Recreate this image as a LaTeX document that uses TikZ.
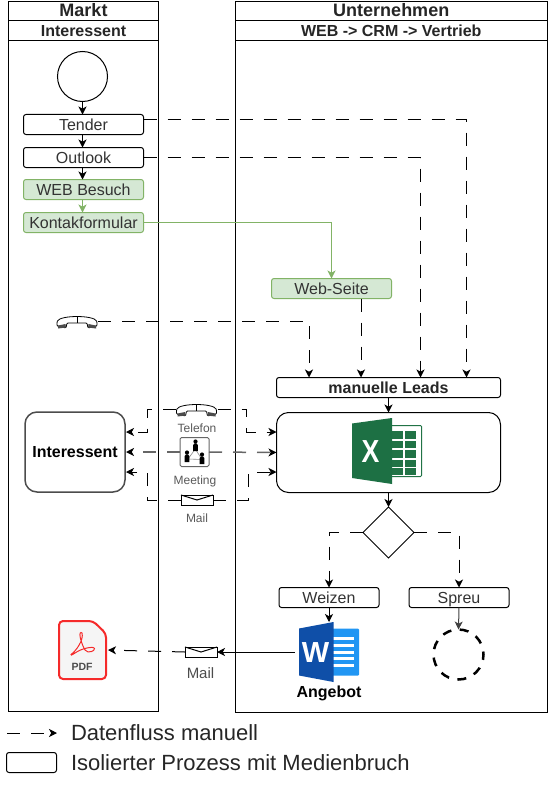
\documentclass[tikz,border=0pt]{standalone}
\usepackage{fontspec}
\setmainfont{Liberation Sans}
\usetikzlibrary{arrows.meta,shapes.geometric,calc}
\definecolor{txt}{HTML}{333333}
\definecolor{grn}{HTML}{82B366}
\definecolor{grnf}{HTML}{D5E8D4}
\definecolor{xld}{HTML}{1D7044}
\definecolor{xlc}{HTML}{217346}
\definecolor{wdd}{HTML}{0F4FA8}
\definecolor{wdl}{HTML}{2196F3}
\definecolor{pdfr}{HTML}{F52A2A}
\tikzset{
  every node/.style={inner sep=0pt,outer sep=0pt,font=\fontsize{16}{18}\selectfont,text=txt},
  every path/.style={line width=1pt},
  arr/.style={-{Stealth[length=8pt,width=8pt,inset=2.2pt]}},
  karr/.style={-{Stealth[length=8pt,width=8pt,inset=2.2pt,black]}},
  dsh/.style={dash pattern=on 13pt off 11pt},
  box/.style={draw,rounded corners=2.5pt,fill=white,minimum height=20pt,anchor=north west,text height=13.5pt,text depth=2.5pt},
  gbox/.style={box,draw=grn,fill=grnf,text=black!80},
  lane/.style={draw,anchor=north west},
  hd/.style={font=\bfseries\fontsize{18}{20}\selectfont,text=black!85,text height=14.5pt,text depth=3pt},
  sh/.style={font=\bfseries\fontsize{16}{18}\selectfont,text=black!85,text height=13.5pt,text depth=2.5pt},
  lab/.style={font=\fontsize{12}{14}\selectfont,text=black!65},
  icon/.style={minimum width=#1,minimum height=12pt,anchor=center},
  phonepic/.pic={
    \draw[fill=white,line width=.8pt,rounded corners=1pt] (-20,5) -- (-20,1) .. controls (-17,-6) and (17,-6) .. (20,1) -- (20,5) -- (11,7) -- (10,2) -- (-10,2) -- (-11,7) -- cycle;
    \draw[line width=.6pt] (0,-4.5) -- (0,2);
    \fill[black!70] (-19,4.5) -- (-11.5,3) -- (-11,6.5) -- (-19,7.5) -- cycle;
    \fill[black!70] (19,4.5) -- (11.5,3) -- (11,6.5) -- (19,7.5) -- cycle;
  },
  mailpic/.pic={
    \draw[fill=white] (-16,-5) rectangle (16,5);
    \draw (-16,-5) -- (0,0) -- (16,-5);
  },
  person/.pic={
    \fill[black] (0,-4.5) circle (2.1);
    \fill[black] (-2.3,5) -- (-2.3,-1) -- (-1,-2.6) -- (1,-2.6) -- (2.3,-1) -- (2.3,5) -- cycle;
  },
}
\begin{document}
\begin{tikzpicture}[x=1pt,y=-1pt]
\useasboundingbox (0,0) rectangle (552,797);
% lanes
\node[lane,minimum width=150pt,minimum height=709.5pt] (markt) at (8.5,1.5) {};
\node[lane,minimum width=150pt,minimum height=19.5pt,hd] (marktH) at (8.5,1.5) {Markt};
\node[lane,minimum width=150pt,minimum height=20pt,sh] (marktS) at (8.5,21) {Interessent};
\node[lane,minimum width=311.5pt,minimum height=710.5pt] (unt) at (235.5,1.5) {};
\node[lane,minimum width=311.5pt,minimum height=19.5pt,hd] (untH) at (235.5,1.5) {Unternehmen};
\node[lane,minimum width=311.5pt,minimum height=20pt,sh] (untS) at (235.5,21) {WEB -> CRM -> Vertrieb};
% left column
\node[draw,circle,minimum size=50pt,anchor=center] (start) at (82.5,76.5) {};
\node[box,minimum width=120pt] (tender) at (23.5,114.5) {Tender};
\node[box,minimum width=120pt] (outlook) at (23.5,147.5) {Outlook};
\node[gbox,minimum width=120pt] (web) at (23.5,179.5) {WEB Besuch};
\node[gbox,minimum width=120pt] (kontakt) at (23.5,212.5) {Kontakformular};
\node[gbox,minimum width=120pt] (seite) at (271.5,278.5) {Web-Seite};
\node[box,minimum width=224pt,sh] (leads) at (276.5,377.5) {manuelle Leads};
\node[box,minimum width=224pt,minimum height=80pt,rounded corners=12pt] (excel) at (276.5,412.5) {};
\node[draw,diamond,aspect=1,minimum size=51pt,anchor=center,fill=white] (dec) at (388.5,532.5) {};
\node[box,minimum width=100pt] (weizen) at (279,587.5) {Weizen};
\node[box,minimum width=100pt] (spreu) at (409,587.5) {Spreu};
\node[draw,circle,minimum size=50pt,anchor=center,line width=2.5pt,dash pattern=on 9pt off 8.5pt,dash phase=6pt] (ende) at (458.5,654.5) {};
\node[draw=black!70,line width=1.5pt,rounded corners=12pt,minimum width=100pt,minimum height=80pt,anchor=north west,sh,text=black] (inter) at (25,412) {Interessent};
% icons as named anchors
\node[icon=42pt] (ph0) at (77,321) {};
\pic at (77,321) {phonepic};
\node[icon=42pt] (ph1) at (196.5,409) {};
\pic at (196.5,409) {phonepic};
\node[draw=black!60,rounded corners=1.5pt,fill=white,minimum width=29pt,minimum height=29pt,anchor=center] (meet) at (194.5,452) {};
\draw[black!45,line width=.6pt,fill=white] (195.3,449) -- (188,459) -- (202,459.5) -- cycle;
\pic at (195.5,446) {person};
\pic at (187,457) {person};
\pic at (202,459) {person};
\node[icon=32pt,minimum height=10pt] (m1) at (197,500) {};
\pic at (197,500) {mailpic};
\node[icon=32pt,minimum height=10pt] (m2) at (201,652) {};
\pic at (201,652) {mailpic};
\node[lab] (t1) at (197,428) {Telefon};
\node[lab] (t2) at (195,481) {Meeting};
\node[lab] (t3) at (197,518) {Mail};
\node[font=\fontsize{15}{17}\selectfont,text=black!70] (t4) at (200.5,673) {Mail};
% excel icon
\node[minimum width=70pt,minimum height=66pt,anchor=center] (xl) at (387,451) {};
\fill[white] (392,425) rectangle (422,477);
\draw[xlc,line width=1pt,rounded corners=1pt] (392,425.5) -- (421.5,425.5) -- (421.5,476.5) -- (392,476.5);
\foreach \yy/\hh in {431/7.5,440.5/7.5,450/7.5,459.5/7.5,468/6.5}{
  \fill[xlc] (392,\yy) rectangle (402.5,\yy+\hh);
  \fill[xlc] (404.5,\yy) rectangle (416,\yy+\hh);
}
\fill[xld] (352,423.5) -- (392,418) -- (392,484) -- (352,478) -- cycle;
\node[text=white,font=\bfseries\fontsize{29}{30}\selectfont] at (370.5,452) {\scalebox{.92}[1.1]{X}};
% word icon
\node[minimum width=61pt,minimum height=60pt,anchor=center] (wd) at (329,652) {};
\fill[wdl,rounded corners=1pt] (330,628.5) rectangle (359,675.5);
\foreach \yy in {638.5,645.5,652,658.5,665}{\fill[white] (333,\yy-1.5) rectangle (354,\yy+1.5);}
\fill[wdd] (299,628.5) -- (333.5,622) -- (333.5,682) -- (299,675.5) -- cycle;
\node[text=white,font=\bfseries\fontsize{29}{30}\selectfont] at (315.5,653) {W};
\node[sh,text=black] (ang) at (329,692) {Angebot};
% pdf icon
\node[minimum width=47pt,minimum height=60pt,anchor=center] (pdf) at (82.5,650) {};
\draw[pdfr,line width=2pt,fill=black!4,rounded corners=4pt] (59,621) -- (93,621) -- (106,633.5) -- (106,679) -- (59,679) -- cycle;
\draw[pdfr,line width=1pt] (81,632.5) .. controls (78,633) and (82,645) .. (85,650) .. controls (88,654) and (95,651) .. (94.5,648.5) .. controls (94,646) and (82,648) .. (75,653) .. controls (72,655) and (70,656) .. (71,654.5) .. controls (76,651) and (84,640) .. (82,633) -- cycle;
\node[font=\bfseries\fontsize{10.5}{12}\selectfont,text=black!70] (pdft) at (82,667) {PDF};
% coordinates for elbows
\coordinate (lA) at (309,377.5);
\coordinate (lB) at (361,377.5);
\coordinate (lC) at (420.5,377.5);
\coordinate (lD) at (466.5,377.5);
\coordinate (sT) at (331.5,278.5);
\coordinate (sB) at (361,298.5);
\coordinate (iA) at (126,432);
\coordinate (iC) at (126,472);
\coordinate (eA) at (276.5,432);
\coordinate (eC) at (276.5,472);
% solid flow
\draw[arr] (start.south) -- (tender.north -| start.south);
\draw[arr] (tender.south -| start.south) -- (outlook.north -| start.south);
\draw[arr] (outlook.south -| start.south) -- (web.north -| start.south);
\draw[arr,grn] (web.south -| start.south) -- (kontakt.north -| start.south);
\draw[arr,grn] (kontakt.east) -| (sT);
\draw[arr] (leads) -- (excel);
\draw[arr] (excel) -- (dec);
\draw[arr] (weizen.south) -- (wd.north -| weizen.south);
\draw[arr,black!75] (spreu.south) -- (ende.north);
% dashed flow
\draw[arr,dsh] ([yshift=5pt]tender.east) -| (lD);
\draw[arr,dsh] (outlook.east) -| (lC);
\draw[arr,dsh] (sB) -- (lB);
\draw[arr,dsh] (ph0.east) -| (lA);
\draw[arr,dsh] (dec.west) -| (weizen.north);
\draw[arr,dsh] (dec.east) -| (spreu.north);
\draw[arr,dsh] (ph1.west) -- ++(-28.5,0) |- (iA);
\draw[arr,dsh] (ph1.east) -- ++(29,0) |- (eA);
\draw[arr,dsh] (m1.west) -| (147,472) -- (iC);
\draw[arr,dsh] (m1.east) -| (248,472) -- (eC);
\draw[karr,dsh,line width=1.5pt,black!60,shorten >=1pt] (meet.west) -- (inter.east);
\draw[karr,dsh,line width=1.5pt,black!60] (meet.east) -- (excel.west);
\draw[arr,shorten <=4pt] (wd.west) -- (m2.east);
\draw[arr,dsh,shorten >=2pt] (m2.west) -- (pdf.east);
% legend
\coordinate (lgA) at (7,733);
\coordinate (lgB) at (57,733);
\draw[arr,dsh] (lgA) -- (lgB);
\node[anchor=west,font=\fontsize{22}{24}\selectfont,text=black!85] (lg1) at (71,732.5) {Datenfluss manuell};
\node[box,minimum width=50pt] (lgbox) at (6.5,752.5) {};
\node[anchor=west,font=\fontsize{22}{24}\selectfont,text=black!85] (lg2) at (71,762.5) {Isolierter Prozess mit Medienbruch};
\end{tikzpicture}
\end{document}
